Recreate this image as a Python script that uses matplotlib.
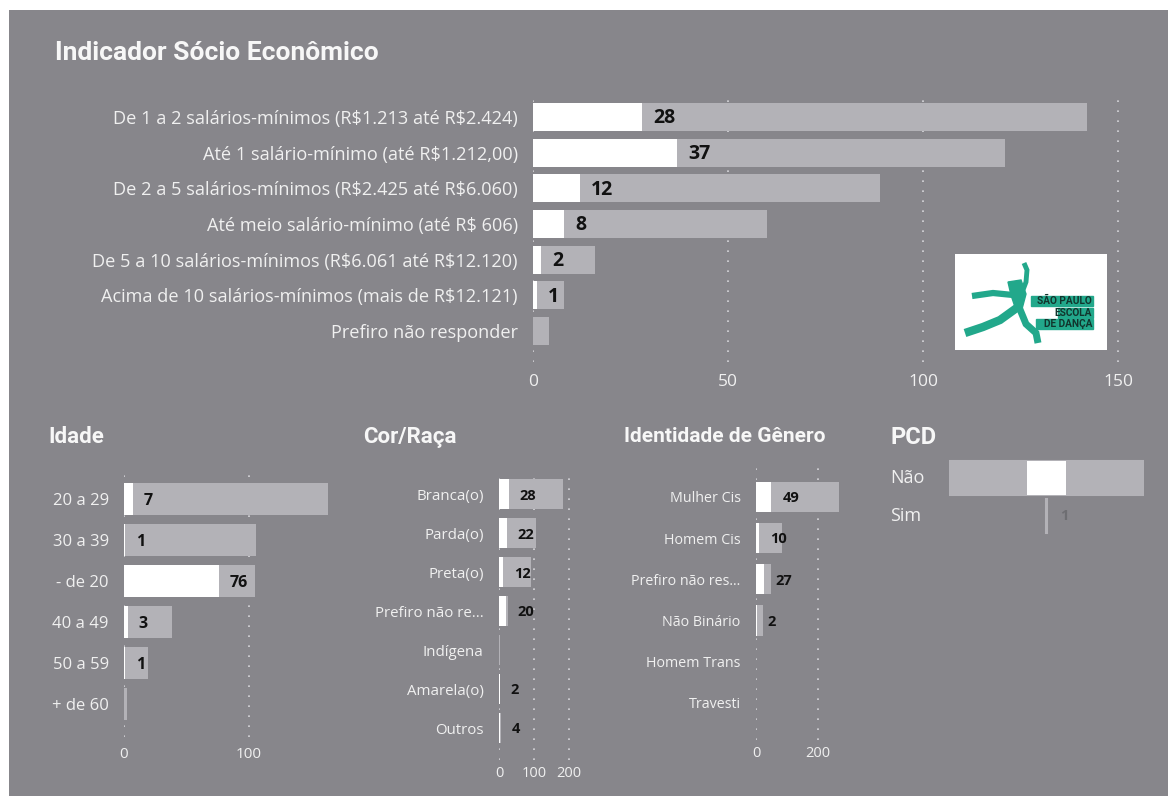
import matplotlib
matplotlib.use("Agg")
import matplotlib.pyplot as plt
from matplotlib.patches import Rectangle
from matplotlib.transforms import blended_transform_factory

plt.rcParams["text.parse_math"] = False

W, H = 1168, 796

# ---- data -----------------------------------------------------------
renda_cats = ["De 1 a 2 salários-mínimos (R$1.213 até R$2.424)",
              "Até 1 salário-mínimo (até R$1.212,00)",
              "De 2 a 5 salários-mínimos (R$2.425 até R$6.060)",
              "Até meio salário-mínimo (até R$ 606)",
              "De 5 a 10 salários-mínimos (R$6.061 até R$12.120)",
              "Acima de 10 salários-mínimos (mais de R$12.121)",
              "Prefiro não responder"]
renda_total = [142, 121, 89, 60, 16, 8, 4]
renda_sub = [28, 37, 12, 8, 2, 1, 0]

idade_cats = ["20 a 29", "30 a 39", "- de 20", "40 a 49", "50 a 59", "+ de 60"]
idade_total = [163, 106, 105, 38, 19, 2]
idade_sub = [7, 1, 76, 3, 1, 0]

raca_cats = ["Branca(o)", "Parda(o)", "Preta(o)", "Prefiro não re...",
             "Indígena", "Amarela(o)", "Outros"]
raca_total = [183, 106, 91, 26, 3, 4, 6]
raca_sub = [28, 22, 12, 20, 0, 2, 4]

genero_cats = ["Mulher Cis", "Homem Cis", "Prefiro não res...", "Não Binário",
               "Homem Trans", "Travesti"]
genero_total = [268, 84, 48, 21, 0, 0]
genero_sub = [49, 10, 27, 2, 0, 0]

pcd_cats = ["Não", "Sim"]
pcd_total = [432, 1]
pcd_sub = [87, 1]

# ---- style ----------------------------------------------------------
BG = "#87868b"
GRAY = "#b3b2b7"
TXT = "#f0f0f0"
LAB = "#111111"
FONT = "Open Sans"
TFONT = "Roboto"

fig = plt.figure(figsize=(W / 100, H / 100), dpi=100, facecolor="white")
bg = Rectangle((9 / W, 0), 1, 1 - 10 / H, transform=fig.transFigure,
               facecolor=BG, edgecolor="none", zorder=-10)
fig.add_artist(bg)


def box(x0, y0, x1, y1):
    return [x0 / W, 1 - y1 / H, (x1 - x0) / W, (y1 - y0) / H]


def hbar(ax, cats, total, sub, xlim, ylim, ticks, barh, fs_cat, fs_val, fs_tick, tick_pad):
    y = list(range(len(cats)))
    ax.set_facecolor("none")
    ax.barh(y, total, height=barh, color=GRAY, zorder=2)
    ax.barh(y, sub, height=barh, color="white", zorder=3)
    for yi, v in zip(y, sub):
        if v > 0:
            ax.annotate(str(v), (v, yi), xytext=(8, -1), textcoords="offset points",
                        ha="left", va="center", fontsize=fs_val, fontweight="bold",
                        color=LAB, family=FONT, zorder=4)
    ax.set_xlim(*xlim)
    ax.set_ylim(*ylim)
    ax.set_yticks(y)
    ax.set_yticklabels(cats, fontsize=fs_cat, color=TXT, family=FONT)
    ax.set_xticks(ticks)
    ax.set_xticklabels([str(t) for t in ticks], fontsize=fs_tick, color=TXT, family=FONT)
    ax.tick_params(length=0, axis="x", pad=tick_pad)
    ax.tick_params(length=0, axis="y", pad=11)
    for t in ticks:
        ax.axvline(t, color="#d6d6da", lw=1.2, ls=(0, (1, 5)), zorder=1)
    for s in ax.spines.values():
        s.set_visible(False)


# top chart
ax1 = fig.add_axes(box(533, 92, 1126, 362))
hbar(ax1, renda_cats, renda_total, renda_sub, (0, 152), (6.87, -0.70),
     [0, 50, 100, 150], 0.785, 13.1, 14, 12.5, 9)
fig.text(55 / W, 1 - 53 / H, "Indicador Sócio Econômico", fontsize=19, color="#f7f7f7",
         family=TFONT, fontweight="bold", va="center", ha="left")

# Idade
ax2 = fig.add_axes(box(124, 475, 339, 737))
hbar(ax2, idade_cats, idade_total, idade_sub, (0, 172), (5.80, -0.59),
     [0, 100], 0.78, 12, 11.5, 11, 7)
fig.text(48 / W, 1 - 437 / H, "Idade", fontsize=16, color="#f7f7f7",
         family=TFONT, fontweight="bold", va="center", ha="left")

# Cor/Raça
ax3 = fig.add_axes(box(499, 470, 574, 760))
hbar(ax3, raca_cats, raca_total, raca_sub, (0, 215), (6.82, -0.62),
     [0, 100, 200], 0.77, 10.8, 10.5, 10.5, 4)
fig.text(363 / W, 1 - 437 / H, "Cor/Raça", fontsize=16, color="#f7f7f7",
         family=TFONT, fontweight="bold", va="center", ha="left")

# Identidade de Gênero
ax4 = fig.add_axes(box(756, 468, 843, 740))
hbar(ax4, genero_cats, genero_total, genero_sub, (0, 280), (5.90, -0.70),
     [0, 200], 0.73, 10.3, 10.5, 10.5, 4)
fig.text(624 / W, 1 - 437 / H, "Identidade de Gênero", fontsize=15, color="#f7f7f7",
         family=TFONT, fontweight="bold", va="center", ha="left")

# PCD (centred bars)
ax5 = fig.add_axes(box(949, 459, 1144, 537))
ax5.set_facecolor("none")
yp = list(range(len(pcd_cats)))
ax5.barh(yp, pcd_total, left=[-v / 2 for v in pcd_total], height=0.88,
         color=GRAY, edgecolor=GRAY, linewidth=1.5, zorder=2)
ax5.barh(yp[:1], pcd_sub[:1], left=[-pcd_sub[0] / 2], height=0.88, color="white", zorder=3)
ax5.annotate(str(pcd_sub[1]), (pcd_total[1] / 2, 1), xytext=(10, 0), textcoords="offset points",
             ha="left", va="center", fontsize=10.5, fontweight="bold", color="#6e6e72", family=FONT)
ax5.set_xlim(-218, 218)
ax5.set_ylim(1.55, -0.5)
ax5.axis("off")
tr = blended_transform_factory(fig.transFigure, ax5.transData)
for yi, c in zip(yp, pcd_cats):
    ax5.text(890 / W, yi, c, transform=tr, fontsize=13, color=TXT, family=FONT,
             ha="left", va="center")
fig.text(890 / W, 1 - 438 / H, "PCD", fontsize=17, color="#f7f7f7",
         family=TFONT, fontweight="bold", va="center", ha="left")

# logo
lg = fig.add_axes(box(955, 254, 1107, 350))
lg.set_xlim(0, 152)
lg.set_ylim(96, 0)
lg.set_facecolor("white")
for s in lg.spines.values():
    s.set_visible(False)
lg.set_xticks([])
lg.set_yticks([])
GREEN = "#22a88b"
strokes = [
    ([69, 72, 71, 68], [9, 16, 28, 36], 3.5),
    ([58, 38, 17], [41, 39, 42], 4.5),
    ([63, 45, 28, 10], [53, 66, 73, 79], 6),
    ([64, 71, 81, 83], [53, 70, 79, 89], 5),
]
for xs, ys, lw in strokes:
    lg.plot(xs, ys, color=GREEN, lw=lw, solid_joinstyle="miter", solid_capstyle="butt")
lg.fill([53, 66, 71, 67, 60, 56], [28, 26, 40, 55, 53, 41], color=GREEN)
for txt, x0, y0 in [("SÃO PAULO", 76, 42), ("ESCOLA", 103, 54), ("DE DANÇA", 81, 65)]:
    lg.add_patch(Rectangle((x0, y0), 138 - x0, 10, color=GREEN))
    lg.text(137, y0 + 5.3, txt, fontsize=7.3, fontweight="bold", color="#12352d",
            ha="right", va="center", family="Roboto")

fig.savefig("out.png", dpi=100, facecolor="white")
